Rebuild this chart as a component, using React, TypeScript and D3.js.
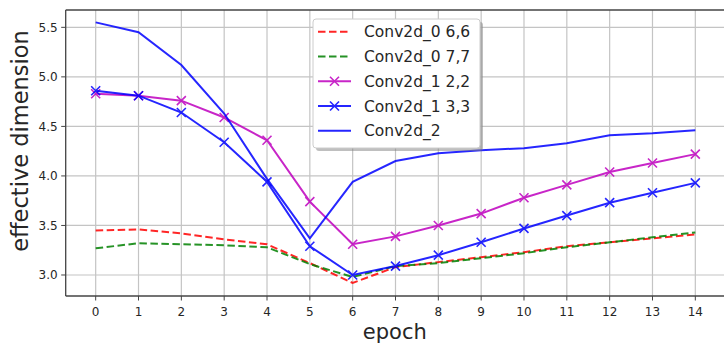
import * as d3 from "d3";
import React, { useEffect, useRef } from "react";

const epochs = [0, 1, 2, 3, 4, 5, 6, 7, 8, 9, 10, 11, 12, 13, 14];
const yTicks = [3.0, 3.5, 4.0, 4.5, 5.0, 5.5];

const conv0_66 = [3.45, 3.46, 3.42, 3.36, 3.31, 3.12, 2.92, 3.08, 3.13, 3.18, 3.23, 3.29, 3.33, 3.37, 3.41];
const conv0_77 = [3.27, 3.32, 3.31, 3.3, 3.28, 3.11, 2.98, 3.09, 3.12, 3.17, 3.22, 3.28, 3.33, 3.38, 3.43];
const conv1_22 = [4.83, 4.81, 4.76, 4.59, 4.36, 3.74, 3.31, 3.39, 3.5, 3.62, 3.78, 3.91, 4.04, 4.13, 4.22];
const conv1_33 = [4.86, 4.81, 4.64, 4.34, 3.94, 3.29, 3.0, 3.09, 3.2, 3.33, 3.47, 3.6, 3.73, 3.83, 3.93];
const conv2 = [5.55, 5.45, 5.12, 4.63, 3.97, 3.37, 3.94, 4.15, 4.23, 4.26, 4.28, 4.33, 4.41, 4.43, 4.46];

const seriesNames = ["Conv2d_0 6,6", "Conv2d_0 7,7", "Conv2d_1 2,2", "Conv2d_1 3,3", "Conv2d_2"];
const seriesValues = [conv0_66, conv0_77, conv1_22, conv1_33, conv2];
const seriesColors = ["#ff0000", "#008000", "#bf00bf", "#0000ff", "#0000ff"];
const seriesDashed = [true, true, false, false, false];
const seriesMarker = [false, false, true, true, false];

const W = 724;
const H = 344;
const FONT = "'DejaVu Sans', sans-serif";

const App: React.FC = () => {
  const svgRef = useRef<SVGSVGElement>(null);

  useEffect(() => {
    const svg = d3.select(svgRef.current);
    svg.selectAll("*").remove();

    const x = d3.scaleLinear().domain([-0.7, 14.7]).range([65.7, 725.3]);
    const y = d3.scaleLinear().domain([2.788, 5.675]).range([296, 10]);
    const [x0] = x.range();
    const [yb, yt] = y.range();

    svg.append("rect").attr("width", W).attr("height", H).attr("fill", "white");

    // grid
    const grid = svg.append("g").attr("stroke", "#c4c4c4").attr("stroke-width", 1.2);
    epochs.forEach((e) => {
      grid.append("line").attr("x1", x(e)).attr("x2", x(e)).attr("y1", yt).attr("y2", yb);
    });
    yTicks.forEach((t) => {
      grid.append("line").attr("x1", x0).attr("x2", W).attr("y1", y(t)).attr("y2", y(t));
    });

    // lines
    const line = d3
      .line<number>()
      .x((_, i) => x(epochs[i]))
      .y((d) => y(d));

    seriesValues.forEach((vals, s) => {
      const g = svg.append("g").attr("opacity", 0.85);
      g.append("path")
        .datum(vals)
        .attr("d", line)
        .attr("fill", "none")
        .attr("stroke", seriesColors[s])
        .attr("stroke-width", 2)
        .attr("stroke-dasharray", seriesDashed[s] ? "7.5,3.5" : null);
      if (seriesMarker[s]) {
        vals.forEach((v, i) => {
          const cx = x(epochs[i]);
          const cy = y(v);
          const r = 4.5;
          g.append("path")
            .attr("d", `M${cx - r},${cy - r}L${cx + r},${cy + r}M${cx - r},${cy + r}L${cx + r},${cy - r}`)
            .attr("stroke", seriesColors[s])
            .attr("stroke-width", 1.6);
        });
      }
    });

    // spines
    const spines = svg.append("g").attr("stroke", "#444").attr("stroke-width", 1.3).attr("fill", "none");
    spines.append("line").attr("x1", x0).attr("x2", x0).attr("y1", yt).attr("y2", yb);
    spines.append("line").attr("x1", x0).attr("x2", W).attr("y1", yt).attr("y2", yt);
    spines.append("line").attr("x1", x0).attr("x2", W).attr("y1", yb).attr("y2", yb);

    // ticks
    const ticks = svg.append("g");
    epochs.forEach((e) => {
      ticks.append("line").attr("x1", x(e)).attr("x2", x(e)).attr("y1", yb).attr("y2", yb + 4.5).attr("stroke", "#444");
      ticks
        .append("text")
        .attr("x", x(e))
        .attr("y", yb + 19.5)
        .attr("text-anchor", "middle")
        .attr("font-family", FONT)
        .attr("font-size", 12)
        .attr("fill", "#262626")
        .text(String(e));
    });
    yTicks.forEach((t) => {
      ticks.append("line").attr("x1", x0 - 4.5).attr("x2", x0).attr("y1", y(t)).attr("y2", y(t)).attr("stroke", "#444");
      ticks
        .append("text")
        .attr("x", x0 - 8)
        .attr("y", y(t))
        .attr("dy", "0.36em")
        .attr("text-anchor", "end")
        .attr("font-family", FONT)
        .attr("font-size", 12)
        .attr("fill", "#262626")
        .text(t.toFixed(1));
    });

    // axis labels
    svg
      .append("text")
      .attr("x", (x0 + W) / 2)
      .attr("y", 339)
      .attr("text-anchor", "middle")
      .attr("font-family", FONT)
      .attr("font-size", 21)
      .attr("fill", "#262626")
      .text("epoch");
    svg
      .append("text")
      .attr("transform", `translate(28, 141) rotate(-90)`)
      .attr("text-anchor", "middle")
      .attr("font-family", FONT)
      .attr("font-size", 22.5)
      .attr("fill", "#262626")
      .text("effective dimension");

    // legend
    const lg = svg.append("g").attr("transform", "translate(313, 19)");
    lg.append("rect")
      .attr("x", 3)
      .attr("y", 3)
      .attr("width", 167)
      .attr("height", 129)
      .attr("rx", 3)
      .attr("fill", "#7f7f7f")
      .attr("opacity", 0.5);
    lg.append("rect")
      .attr("width", 167)
      .attr("height", 129)
      .attr("rx", 3)
      .attr("fill", "white")
      .attr("stroke", "#cccccc");
    seriesNames.forEach((name, s) => {
      const ry = 12.7 + s * 24.75;
      const g = lg.append("g").attr("opacity", 0.85);
      g.append("line")
        .attr("x1", 5)
        .attr("x2", 38)
        .attr("y1", ry)
        .attr("y2", ry)
        .attr("stroke", seriesColors[s])
        .attr("stroke-width", 2)
        .attr("stroke-dasharray", seriesDashed[s] ? "7.5,3.5" : null);
      if (seriesMarker[s]) {
        const r = 4.5;
        const cx = 21.5;
        g.append("path")
          .attr("d", `M${cx - r},${ry - r}L${cx + r},${ry + r}M${cx - r},${ry + r}L${cx + r},${ry - r}`)
          .attr("stroke", seriesColors[s])
          .attr("stroke-width", 1.6);
      }
      lg.append("text")
        .attr("x", 51)
        .attr("y", ry)
        .attr("dy", "0.36em")
        .attr("font-family", FONT)
        .attr("font-size", 15.5)
        .attr("fill", "#262626")
        .text(name);
    });
  }, []);

  return (
    <svg
      ref={svgRef}
      width={W}
      height={H}
      style={{ position: "absolute", left: 0, top: 0, display: "block" }}
    />
  );
};

export default App;
